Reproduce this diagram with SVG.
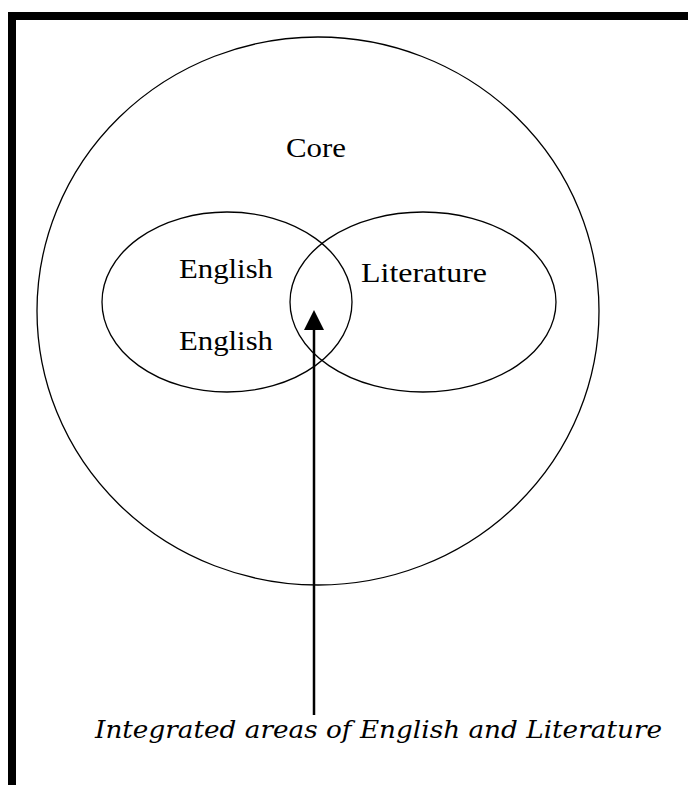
<svg xmlns="http://www.w3.org/2000/svg" width="688" height="785" viewBox="0 0 688 785">
<style>
.shape{fill:none;stroke:#000;stroke-width:1.3}
.lbl{font-family:"Liberation Serif","Times New Roman",serif;font-size:28px;fill:#000}
.cap{font-family:"DejaVu Serif",serif;font-style:italic;font-size:25px;fill:#000}
</style>
<defs>
<marker id="ah" markerWidth="20" markerHeight="20" refX="10" refY="10" orient="auto" markerUnits="userSpaceOnUse">
<path d="M0,0 L20,10 L0,20 Z" fill="#000"/>
</marker>
</defs>
<rect width="688" height="785" fill="#fff"/>
<g id="border">
<rect x="8" y="12" width="680" height="8" fill="#000"/>
<rect x="8" y="12" width="8" height="773" fill="#000"/>
</g>
<g id="core">
<ellipse class="shape" cx="318" cy="311" rx="281" ry="274"/>
<text class="lbl" x="286" y="157" textLength="60" lengthAdjust="spacingAndGlyphs">Core</text>
</g>
<g id="english">
<ellipse class="shape" cx="227" cy="302" rx="125" ry="90"/>
<text class="lbl" x="179" y="278" textLength="94" lengthAdjust="spacingAndGlyphs">English</text>
<text class="lbl" x="179" y="350" textLength="94" lengthAdjust="spacingAndGlyphs">English</text>
</g>
<g id="literature">
<ellipse class="shape" cx="423" cy="302" rx="133" ry="90"/>
<text class="lbl" x="361" y="282" textLength="126" lengthAdjust="spacingAndGlyphs">Literature</text>
</g>
<g id="connectors">
<line x1="314" y1="715" x2="314" y2="320" stroke="#000" stroke-width="2.5" marker-end="url(#ah)"/>
</g>
<g id="caption">
<text class="cap" x="95" y="738" textLength="567" lengthAdjust="spacingAndGlyphs">Integrated areas of English and Literature</text>
</g>
</svg>
